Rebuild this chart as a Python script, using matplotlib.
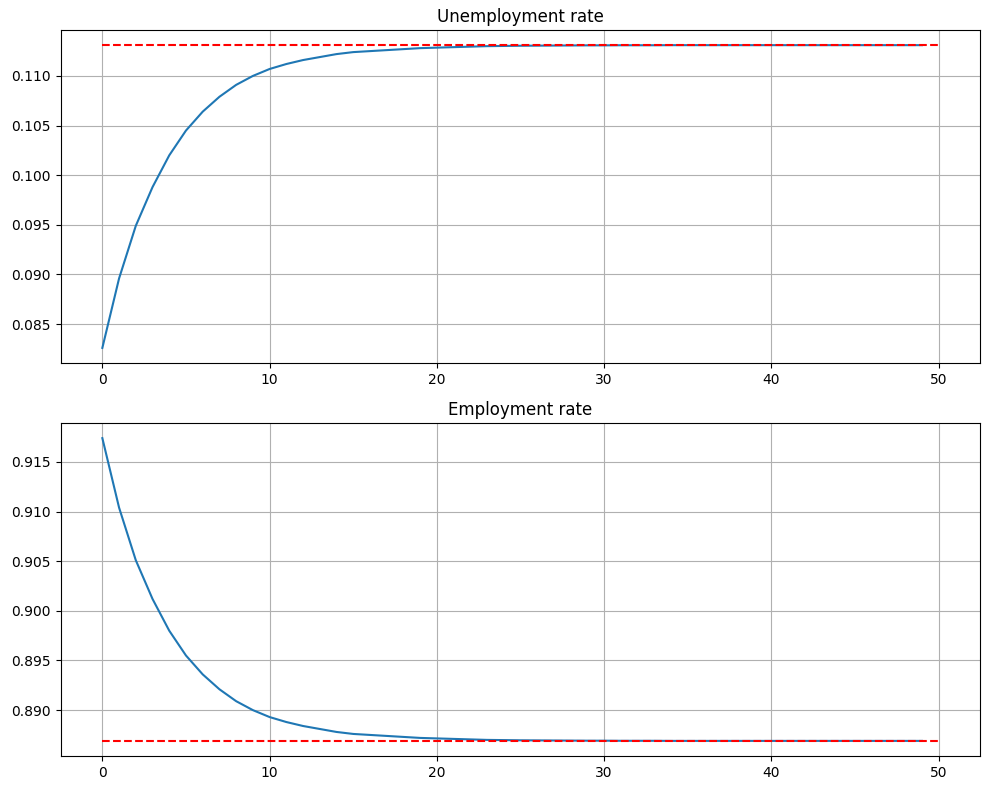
import matplotlib.pyplot as plt

# values
unemployment = [0.0826, 0.0896, 0.0949, 0.0988, 0.1020, 0.1045, 0.1064, 0.1079,
                0.1091, 0.1100, 0.1107, 0.1112, 0.1116, 0.1119, 0.1122, 0.1124,
                0.1125, 0.1126, 0.1127, 0.1128, 0.11285, 0.1129, 0.11295, 0.1130,
                0.11302, 0.11304, 0.11305, 0.11306, 0.11307, 0.11308, 0.11308,
                0.11309, 0.11309, 0.11309, 0.1131, 0.1131, 0.1131, 0.1131,
                0.1131, 0.1131, 0.1131, 0.1131, 0.1131, 0.1131, 0.1131, 0.1131,
                0.1131, 0.1131, 0.1131, 0.1131]
employment = [0.9174, 0.9104, 0.9051, 0.9012, 0.8980, 0.8955, 0.8936, 0.8921,
              0.8909, 0.8900, 0.8893, 0.8888, 0.8884, 0.8881, 0.8878, 0.8876,
              0.8875, 0.8874, 0.8873, 0.8872, 0.88715, 0.8871, 0.88705, 0.8870,
              0.88698, 0.88696, 0.88695, 0.88694, 0.88693, 0.88692, 0.88692,
              0.88691, 0.88691, 0.88691, 0.8869, 0.8869, 0.8869, 0.8869,
              0.8869, 0.8869, 0.8869, 0.8869, 0.8869, 0.8869, 0.8869, 0.8869,
              0.8869, 0.8869, 0.8869, 0.8869]
u_steady = 0.1131
e_steady = 0.8869
horizon = 50

fig, axes = plt.subplots(2, 1, figsize=(9.89, 7.9), dpi=100)
fig.subplots_adjust(left=0.0612, right=0.9914, top=0.962, bottom=0.043, hspace=0.18)

ax = axes[0]
ax.plot(range(len(unemployment)), unemployment)
ax.plot([0, horizon], [u_steady, u_steady], 'r--')
ax.set_title('Unemployment rate')
ax.grid(True)

ax = axes[1]
ax.plot(range(len(employment)), employment)
ax.plot([0, horizon], [e_steady, e_steady], 'r--')
ax.set_title('Employment rate')
ax.grid(True)

plt.savefig('out.png')
